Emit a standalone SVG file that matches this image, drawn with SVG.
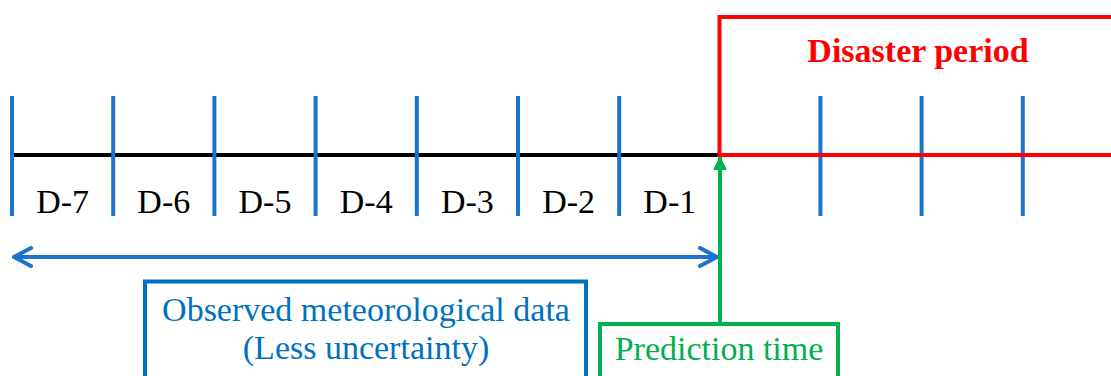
<svg xmlns="http://www.w3.org/2000/svg" width="1111" height="376" viewBox="0 0 1111 376">
  <style>
    .tick { stroke: #1A73CC; stroke-width: 4; }
    .lbl { font-family: "Liberation Serif", "Times New Roman", serif; font-size: 34px; text-anchor: middle; }
    .day { fill: #000000; }
    .blue { fill: #0070C0; }
    .green { fill: #00B050; }
    .red { fill: #FF0000; font-weight: bold; }
  </style>
  <defs>
    <marker id="chev" viewBox="0 0 22 22" refX="20" refY="11" markerWidth="22" markerHeight="22" markerUnits="userSpaceOnUse" orient="auto-start-reverse">
      <polyline points="3,2 20,11 3,20" fill="none" stroke="#1A73CC" stroke-width="4" stroke-linecap="round" stroke-linejoin="round"/>
    </marker>
    <marker id="tri" viewBox="0 0 14 14" refX="13" refY="7" markerWidth="14" markerHeight="14" markerUnits="userSpaceOnUse" orient="auto">
      <polygon points="0,0 14,7 0,14" fill="#00B050"/>
    </marker>
  </defs>
  <rect width="1111" height="376" fill="#ffffff"/>

  <g id="timeline">
    <line x1="12" y1="155" x2="720" y2="155" stroke="#000000" stroke-width="4"/>
    <line class="tick" x1="12" y1="96" x2="12" y2="216"/>
    <line class="tick" x1="113.2" y1="96" x2="113.2" y2="216"/>
    <line class="tick" x1="214.4" y1="96" x2="214.4" y2="216"/>
    <line class="tick" x1="315.6" y1="96" x2="315.6" y2="216"/>
    <line class="tick" x1="416.8" y1="96" x2="416.8" y2="216"/>
    <line class="tick" x1="518" y1="96" x2="518" y2="216"/>
    <line class="tick" x1="619.2" y1="96" x2="619.2" y2="216"/>
    <text class="lbl day" x="62.6" y="213">D-7</text>
    <text class="lbl day" x="163.8" y="213">D-6</text>
    <text class="lbl day" x="265" y="213">D-5</text>
    <text class="lbl day" x="366.2" y="213">D-4</text>
    <text class="lbl day" x="467.4" y="213">D-3</text>
    <text class="lbl day" x="568.6" y="213">D-2</text>
    <text class="lbl day" x="669.8" y="213">D-1</text>
  </g>

  <g id="disaster-period">
    <polyline points="1115,17 719.5,17 719.5,155 1115,155" fill="none" stroke="#FF0000" stroke-width="4"/>
    <line class="tick" x1="820.4" y1="96" x2="820.4" y2="216"/>
    <line class="tick" x1="921.6" y1="96" x2="921.6" y2="216"/>
    <line class="tick" x1="1022.8" y1="96" x2="1022.8" y2="216"/>
    <line x1="719.5" y1="155" x2="1115" y2="155" stroke="#FF0000" stroke-width="4"/>
    <text class="lbl red" x="918" y="62">Disaster period</text>
  </g>

  <g id="observed-data">
    <rect x="145" y="281.5" width="441" height="140" fill="none" stroke="#0070C0" stroke-width="4"/>
    <text class="lbl blue" x="366" y="321">Observed meteorological data</text>
    <text class="lbl blue" x="366" y="359">(Less uncertainty)</text>
  </g>

  <g id="prediction-time">
    <rect x="600" y="324" width="238" height="100" fill="none" stroke="#00B050" stroke-width="4"/>
    <text class="lbl green" x="719" y="360">Prediction time</text>
  </g>

  <g id="connectors">
    <line x1="14" y1="257" x2="717" y2="257" stroke="#1A73CC" stroke-width="4" marker-start="url(#chev)" marker-end="url(#chev)"/>
    <line x1="720" y1="322" x2="720" y2="157" stroke="#00B050" stroke-width="4" marker-end="url(#tri)"/>
  </g>
</svg>
